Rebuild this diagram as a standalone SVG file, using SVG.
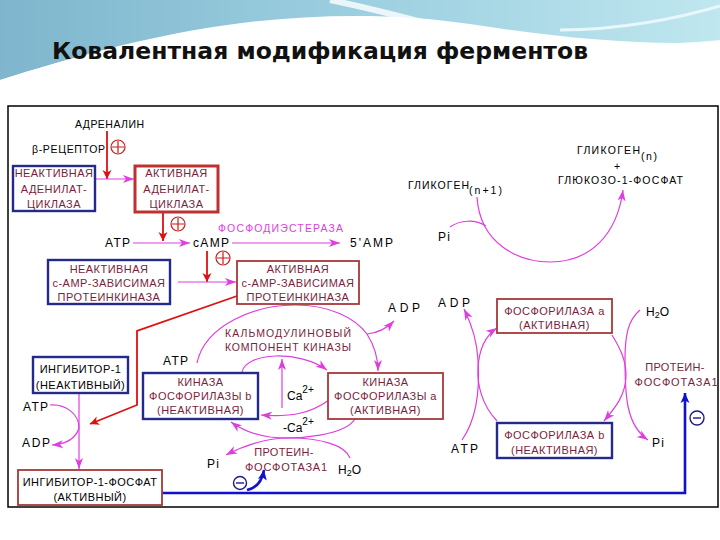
<svg xmlns="http://www.w3.org/2000/svg" width="720" height="540" viewBox="0 0 720 540">
<defs>
<style>
.t{font-family:"Liberation Sans",Arial,sans-serif;font-size:10.5px;fill:#000}
.m{fill:#7a1e3c}
.bx{font-family:"Liberation Sans",Arial,sans-serif;font-size:11px;letter-spacing:0.45px;fill:#7a1e3c;text-anchor:middle}
.k{font-family:"Liberation Sans",Arial,sans-serif;font-size:12px;fill:#000}
.mg{fill:none;stroke:#de3ede;stroke-width:1.2}
.rd{fill:none;stroke:#e01010;stroke-width:1.8}
.bl{fill:none;stroke:#1010d0;stroke-width:2.6}
.bb{fill:#fff;stroke:#232a8c;stroke-width:2.4}
.rb{fill:#fff;stroke:#a83838;stroke-width:1.8}
</style>
<marker id="am" markerUnits="userSpaceOnUse" markerWidth="12" markerHeight="9" refX="11" refY="4.5" orient="auto"><path d="M0,0.5 L11,4.5 L0,8.5 L3,4.5 Z" fill="#de3ede"/></marker>
<marker id="ar" markerUnits="userSpaceOnUse" markerWidth="10" markerHeight="10" refX="9" refY="5" orient="auto"><path d="M0,0.5 L9,5 L0,9.5 L2.5,5 Z" fill="#e01010"/></marker>
<marker id="ab" markerUnits="userSpaceOnUse" markerWidth="11" markerHeight="10" refX="10" refY="5" orient="auto"><path d="M0,0.5 L10,5 L0,9.5 L2.5,5 Z" fill="#1010d0"/></marker>
<linearGradient id="hg2" x1="0" y1="0" x2="1" y2="0"><stop offset="0" stop-color="#7fb6cd"/><stop offset="0.5" stop-color="#9ccfe0"/><stop offset="1" stop-color="#bfe7ef"/></linearGradient>
</defs>
<rect width="720" height="540" fill="#fff"/>
<g id="header">
<path d="M0,0 H720 V42 C640,46 560,38 470,24 C390,12 300,14 220,26 C140,38 70,58 0,80 Z" fill="url(#hg2)"/>
<path d="M0,80 C80,54 160,36 240,28 C320,20 400,24 470,34 C560,46 640,48 720,40 V56 C640,62 560,58 470,48 C390,40 310,38 240,44 C150,52 70,70 0,92 Z" fill="#fff" opacity="0.85"/>
<path d="M330,0 C380,10 420,22 470,34" stroke="#fff" stroke-width="6" fill="none" opacity="0.8"/>
<path d="M560,30 C620,30 680,18 720,6" stroke="#e8f7fa" stroke-width="3" fill="none"/>
<text x="52" y="59" font-family="'DejaVu Sans',Verdana,sans-serif" font-weight="bold" font-size="23" fill="#111" textLength="536" lengthAdjust="spacingAndGlyphs">Ковалентная модификация ферментов</text>
</g>
<rect x="8" y="106" width="710" height="401" fill="#fff" stroke="#000" stroke-width="1.5"/>
<g id="connectors">
<path class="rd" d="M107,131 V179" marker-end="url(#ar)"/>
<path class="mg" d="M95,179 H134" marker-end="url(#am)"/>
<path class="rd" d="M163,212 V241" marker-end="url(#ar)"/>
<path class="mg" d="M133,243 H190" marker-end="url(#am)"/>
<path class="mg" d="M232,243 H340" marker-end="url(#am)"/>
<path class="rd" d="M207,251 V282" marker-end="url(#ar)"/>
<path class="mg" d="M178,282 H236" marker-end="url(#am)"/>
<path class="rd" d="M237,296 L137,331 V405 L90,424" marker-end="url(#ar)" stroke-width="1.2"/>
<path class="mg" d="M79,393 V469" marker-end="url(#am)"/>
<path class="mg" d="M50,405 C66,404 79,414 79,428"/>
<path class="mg" d="M79,428 C76,438 66,444 52,445" marker-end="url(#am)"/>
<path class="mg" d="M197,363 C205,325 255,305 295,305 C330,305 355,318 367,334"/>
<path class="mg" d="M367,334 C374,345 378,356 378,371" marker-end="url(#am)"/>
<path class="mg" d="M367,334 C378,333 387,328 394,321" marker-end="url(#am)"/>
<path class="mg" d="M282,408 V359" marker-end="url(#am)"/>
<path class="mg" d="M242,372 C246,352 300,350 327,370" marker-end="url(#am)"/>
<path class="mg" d="M329,400 C310,414 290,417 261,415" marker-end="url(#am)"/>
<path class="mg" d="M355,419 C345,435 300,440 270,437 C255,435 242,430 231,422" marker-end="url(#am)"/>
<path class="mg" d="M350,458 C345,445 320,438 290,438 C265,438 245,445 226,455" marker-end="url(#am)"/>
<path class="mg" d="M477,197 C480,245 520,262 550,262 C590,262 617,235 623,190" marker-end="url(#am)"/>
<path class="mg" d="M450,227 C460,220 475,219 486,226"/>
<path class="mg" d="M462,440 C476,420 480,390 478,360 C477,340 472,325 464,309" marker-end="url(#am)"/>
<path class="mg" d="M497,421 C482,405 477,385 478,368 C479,350 485,336 497,328" marker-end="url(#am)"/>
<path class="mg" d="M612,335 C620,348 626,360 626,375 C626,395 615,408 604,421" marker-end="url(#am)"/>
<path class="mg" d="M640,310 C628,320 625,335 625,360 C625,395 626,425 648,440" marker-end="url(#am)"/>
<path class="bl" d="M162,493 H685 V393" marker-end="url(#ab)"/>
<path class="bl" stroke-width="1.6" d="M247,490 C256,488 262,482 264,470" marker-end="url(#ab)"/>
</g>
<g id="signs" fill="none">
<g stroke="#d01818" stroke-width="1.2">
<circle cx="118" cy="147" r="7"/><path d="M112,147 H124 M118,141 V153"/>
<circle cx="178" cy="224" r="7"/><path d="M172,224 H184 M178,218 V230"/>
<circle cx="223" cy="258" r="7"/><path d="M217,258 H229 M223,252 V264"/>
</g>
<g stroke="#1a1a8a" stroke-width="1.4">
<circle cx="240" cy="483" r="6.5"/><path d="M236,483 H244"/>
<circle cx="697" cy="418" r="7"/><path d="M693,418 H701"/>
</g>
</g>
<g id="labels">
<text class="t" x="75" y="128" textLength="69">АДРЕНАЛИН</text>
<text class="t" x="32" y="153" textLength="73">β-РЕЦЕПТОР</text>
<text class="k" x="105" y="247" textLength="25">ATP</text>
<text class="k" x="193" y="247" textLength="36">cAMP</text>
<text class="t" x="218" y="232" style="fill:#de3ede" textLength="125">ФОСФОДИЭСТЕРАЗА</text>
<text class="k" x="350" y="247" textLength="43">5'AMP</text>
<text class="t" x="577" y="154" textLength="63">ГЛИКОГЕН</text>
<text class="t" x="641" y="160" textLength="16">(n)</text>
<text class="t" x="614" y="170">+</text>
<text class="t" x="558" y="184" textLength="125">ГЛЮКОЗО-1-ФОСФАТ</text>
<text class="t" x="408" y="189" textLength="61">ГЛИКОГЕН</text>
<text class="t" x="469" y="194" textLength="33">(n+1)</text>
<text class="k" x="438" y="241" textLength="12">Pi</text>
<text class="k" x="388" y="312" textLength="32">ADP</text>
<text class="k" x="438" y="307" textLength="32">ADP</text>
<text class="k" x="646" y="316">H<tspan font-size="9" dy="2">2</tspan><tspan dy="-2">O</tspan></text>
<text class="bx" x="675" y="371" style="letter-spacing:0.3px">ПРОТЕИН-</text>
<text class="bx" x="676" y="386" style="letter-spacing:0" textLength="83">ФОСФОТАЗА1</text>
<text class="k" x="652" y="447" textLength="12">Pi</text>
<text class="k" x="451" y="453" textLength="27">ATP</text>
<text class="k" x="23" y="411" textLength="25">ATP</text>
<text class="k" x="22" y="447" textLength="28">ADP</text>
<text class="k" x="163" y="365" textLength="25">ATP</text>
<text class="t m" x="225" y="337" textLength="126">КАЛЬМОДУЛИНОВЫЙ</text>
<text class="t m" x="225" y="351" textLength="126">КОМПОНЕНТ КИНАЗЫ</text>
<text class="k" x="287" y="400" font-size="14">Ca<tspan font-size="10" dy="-7">2+</tspan></text>
<text class="k" x="283" y="432" font-size="14">-Ca<tspan font-size="10" dy="-7">2+</tspan></text>
<text class="k" x="207" y="468" textLength="12">Pi</text>
<text class="bx" x="284" y="456" style="letter-spacing:0.3px">ПРОТЕИН-</text>
<text class="bx" x="286" y="471" style="letter-spacing:0" textLength="82">ФОСФОТАЗА1</text>
<text class="k" x="338" y="474">H<tspan font-size="9" dy="2">2</tspan><tspan dy="-2">O</tspan></text>
</g>
<g id="ac-inactive">
<rect class="bb" x="13" y="166" width="82" height="45"/>
<text class="bx" x="54" y="177">НЕАКТИВНАЯ</text>
<text class="bx" x="54" y="193">АДЕНИЛАТ-</text>
<text class="bx" x="54" y="208">ЦИКЛАЗА</text>
</g>
<g id="ac-active">
<rect x="135" y="166" width="83" height="46" fill="#fff" stroke="#c03030" stroke-width="3"/>
<text class="bx" x="176.5" y="177">АКТИВНАЯ</text>
<text class="bx" x="176.5" y="193">АДЕНИЛАТ-</text>
<text class="bx" x="176.5" y="208">ЦИКЛАЗА</text>
</g>
<g id="pk-inactive">
<rect class="bb" x="48" y="260" width="122" height="44" stroke-width="1.8"/>
<text class="bx" x="109" y="273">НЕАКТИВНАЯ</text>
<text class="bx" x="109" y="287">с-АМР-ЗАВИСИМАЯ</text>
<text class="bx" x="109" y="301">ПРОТЕИНКИНАЗА</text>
</g>
<g id="pk-active">
<rect class="rb" x="237" y="261" width="122" height="43" stroke-width="1.4"/>
<text class="bx" x="298" y="273">АКТИВНАЯ</text>
<text class="bx" x="298" y="287">с-АМР-ЗАВИСИМАЯ</text>
<text class="bx" x="298" y="301">ПРОТЕИНКИНАЗА</text>
</g>
<g id="inhibitor">
<rect class="bb" x="33" y="357" width="95" height="36" stroke-width="1.8"/>
<text class="bx" x="80.5" y="373" style="fill:#000">ИНГИБИТОР-1</text>
<text class="bx" x="80.5" y="389" style="fill:#000">(НЕАКТИВНЫЙ)</text>
</g>
<g id="kinase-b">
<rect class="bb" x="143" y="373" width="115" height="46" stroke-width="1.6"/>
<text class="bx" x="200.5" y="386">КИНАЗА</text>
<text class="bx" x="200.5" y="400">ФОСФОРИЛАЗЫ b</text>
<text class="bx" x="200.5" y="414">(НЕАКТИВНАЯ)</text>
</g>
<g id="kinase-a">
<rect class="rb" x="328" y="373" width="115" height="46" stroke-width="1.5"/>
<text class="bx" x="385.5" y="386">КИНАЗА</text>
<text class="bx" x="385.5" y="400">ФОСФОРИЛАЗЫ а</text>
<text class="bx" x="385.5" y="414">(АКТИВНАЯ)</text>
</g>
<g id="phos-a">
<rect class="rb" x="497" y="299" width="115" height="34"/>
<text class="bx" x="554.5" y="315">ФОСФОРИЛАЗА а</text>
<text class="bx" x="554.5" y="329">(АКТИВНАЯ)</text>
</g>
<g id="phos-b">
<rect class="bb" x="497" y="423" width="115" height="35"/>
<text class="bx" x="554.5" y="439">ФОСФОРИЛАЗА b</text>
<text class="bx" x="554.5" y="454">(НЕАКТИВНАЯ)</text>
</g>
<g id="inhibitor-p">
<rect class="rb" x="18" y="470" width="144" height="35" stroke-width="1.4"/>
<text class="bx" x="90" y="486" style="fill:#000">ИНГИБИТОР-1-ФОСФАТ</text>
<text class="bx" x="90" y="501" style="fill:#000">(АКТИВНЫЙ)</text>
</g>
</svg>
